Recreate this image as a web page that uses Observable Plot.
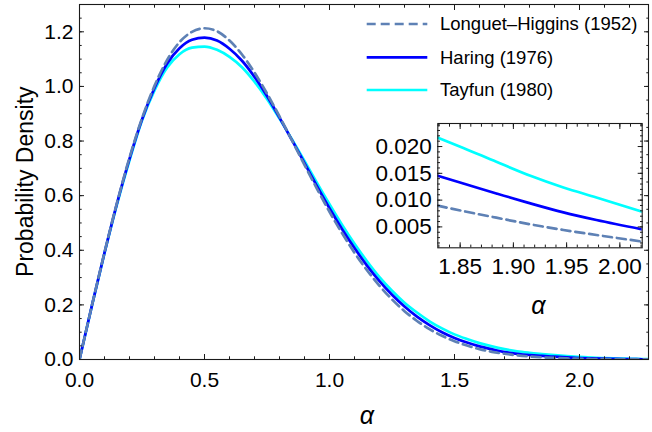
<!DOCTYPE html>
<html><head><meta charset="utf-8">
<script src="https://cdn.jsdelivr.net/npm/d3@7"></script>
<script src="https://cdn.jsdelivr.net/npm/@observablehq/plot@0.6"></script>
<style>
html,body{margin:0;padding:0;background:#fff;}
#chart{position:relative;width:652px;height:432px;font-family:"Liberation Sans",Arial,sans-serif;}
#chart svg{position:absolute;overflow:visible;background:none;}
</style></head><body><div id="chart"></div>
<script>
// ---- data ----
const alpha = [0,0.05,0.1,0.15,0.2,0.25,0.3,0.35,0.4,0.45,0.5,0.55,0.6,0.65,0.7,0.75,0.8,0.85,0.9,0.95,1.0,1.05,1.1,1.15,1.2,1.25,1.3,1.35,1.4,1.45,1.5,1.55,1.6,1.65,1.7,1.75,1.8,1.85,1.9,1.95,2.0,2.05,2.1,2.15,2.2,2.25,2.3];
const longuetHiggins = [0,0.199,0.392,0.574,0.739,0.883,1.002,1.096,1.162,1.200,1.213,1.202,1.168,1.117,1.051,0.974,0.890,0.802,0.713,0.625,0.541,0.463,0.391,0.327,0.270,0.220,0.177,0.141,0.111,0.087,0.067,0.051,0.038,0.028,0.021,0.0153,0.0110,0.0079,0.0056,0.0039,0.0027,0.0018,0.0012,0.0008,0.0005,0.0003,0.0002];
const haring = [0,0.199,0.391,0.572,0.735,0.879,0.994,1.083,1.140,1.171,1.179,1.168,1.138,1.094,1.035,0.965,0.886,0.803,0.719,0.635,0.554,0.478,0.408,0.344,0.287,0.237,0.194,0.157,0.126,0.100,0.079,0.062,0.048,0.037,0.027,0.021,0.0165,0.0132,0.0103,0.0076,0.0055,0.0040,0.0029,0.0021,0.0015,0.0010,0.0007];
const tayfun = [0,0.198,0.389,0.568,0.729,0.875,0.985,1.068,1.118,1.142,1.146,1.134,1.108,1.070,1.017,0.954,0.882,0.806,0.727,0.647,0.569,0.494,0.424,0.360,0.302,0.252,0.208,0.172,0.140,0.114,0.092,0.075,0.060,0.048,0.038,0.030,0.0245,0.0200,0.0158,0.0122,0.0093,0.0068,0.0050,0.0036,0.0026,0.0018,0.0012];

const insetAlpha = [1.829,1.853,1.884,1.916,1.947,1.978,2.021];
const insetLonguetHiggins = [0.00896,0.00795,0.00672,0.00548,0.00442,0.00349,0.00226];
const insetHaring = [0.01454,0.01311,0.01125,0.00939,0.00771,0.00628,0.00455];
const insetTayfun = [0.02167,0.01975,0.01715,0.01454,0.01236,0.01050,0.00784];

const seriesNames = ["Longuet\u2013Higgins (1952)", "Haring (1976)", "Tayfun (1980)"];
const seriesColors = ["#5e81b5", "#0000ff", "#00ffff"];
const seriesDash = ["9,5", null, null];

const xTicks = [0, 0.5, 1.0, 1.5, 2.0];
const xMinorTicks = [0,0.1,0.2,0.3,0.4,0.5,0.6,0.7,0.8,0.9,1.0,1.1,1.2,1.3,1.4,1.5,1.6,1.7,1.8,1.9,2.0,2.1,2.2];
const yTicks = [0, 0.2, 0.4, 0.6, 0.8, 1.0, 1.2];
const yMinorTicks = [0,0.05,0.1,0.15,0.2,0.25,0.3,0.35,0.4,0.45,0.5,0.55,0.6,0.65,0.7,0.75,0.8,0.85,0.9,0.95,1.0,1.05,1.1,1.15,1.2,1.25,1.3];
const insetXTicks = [1.85, 1.90, 1.95, 2.00];
const insetXMinorTicks = [1.83,1.84,1.85,1.86,1.87,1.88,1.89,1.90,1.91,1.92,1.93,1.94,1.95,1.96,1.97,1.98,1.99,2.00,2.01,2.02];
const insetYTicks = [0.005, 0.010, 0.015, 0.020];
const insetYMinorTicks = [0.002,0.003,0.004,0.005,0.006,0.007,0.008,0.009,0.010,0.011,0.012,0.013,0.014,0.015,0.016,0.017,0.018,0.019,0.020,0.021,0.022,0.023,0.024];

const xLabel = "\u03b1";
const yLabel = "Probability Density";

// ---- build tables ----
const mainSeries = [longuetHiggins, haring, tayfun].map((vals) => alpha.map((a, i) => ({a, v: vals[i]})));
const insetSeries = [insetLonguetHiggins, insetHaring, insetTayfun].map((vals) => insetAlpha.map((a, i) => ({a, v: vals[i]})));

const frameColor = "#1a1a1a";
const font = "Liberation Sans, Arial, sans-serif";

function frameAxes(xt, xm, yt, ym, fmtX, fmtY, fs, padX, padY) {
  const none = () => "";
  return [
    Plot.axisX(xt, {tickSize: -5, tickPadding: padX, tickFormat: fmtX, fontSize: fs, label: null, stroke: frameColor, fill: "black"}),
    Plot.axisX(xm, {tickSize: -2.7, tickFormat: none, label: null, stroke: frameColor}),
    Plot.axisX(xt, {anchor: "top", tickSize: -5, tickFormat: none, label: null, stroke: frameColor}),
    Plot.axisX(xm, {anchor: "top", tickSize: -2.7, tickFormat: none, label: null, stroke: frameColor}),
    Plot.axisY(yt, {tickSize: -5, tickPadding: padY, tickFormat: fmtY, fontSize: fs, label: null, stroke: frameColor, fill: "black"}),
    Plot.axisY(ym, {tickSize: -2.7, tickFormat: none, label: null, stroke: frameColor}),
    Plot.axisY(yt, {anchor: "right", tickSize: -5, tickFormat: none, label: null, stroke: frameColor}),
    Plot.axisY(ym, {anchor: "right", tickSize: -2.7, tickFormat: none, label: null, stroke: frameColor}),
    Plot.frame({stroke: frameColor, strokeWidth: 1.1})
  ];
}

function curveMarks(series) {
  return series.map((d, s) => Plot.line(d, {
    x: "a", y: "v", stroke: seriesColors[s], strokeWidth: 2.7,
    strokeDasharray: seriesDash[s] || undefined, curve: "monotone-x", clip: true
  })).reverse();
}

const main = Plot.plot({
  width: 652, height: 432,
  marginLeft: 79, marginRight: 4, marginTop: 4, marginBottom: 73,
  style: {fontFamily: font, background: "transparent"},
  x: {domain: [0, 2.276]},
  y: {domain: [0, 1.3]},
  marks: [
    ...curveMarks(mainSeries),
    ...frameAxes(xTicks, xMinorTicks, yTicks, yMinorTicks, d => d.toFixed(1), d => d.toFixed(1), 21, 17.5, 11)
  ]
});
main.style.left = "0px"; main.style.top = "0px";
document.getElementById("chart").appendChild(main);

// axis titles placed relative to the main frame
const ms = d3.select(main);
ms.append("text").attr("transform", "translate(25,181.7) rotate(-90)")
  .attr("text-anchor", "middle").attr("dy", "0.35em")
  .attr("font-family", font).attr("font-size", 23).attr("fill", "black").text(yLabel);
ms.append("text").attr("x", 367).attr("y", 416).attr("dy", "0.3em")
  .attr("text-anchor", "middle").attr("font-style", "italic")
  .attr("font-family", font).attr("font-size", 25).attr("fill", "black").text(xLabel);

const inset = Plot.plot({
  width: 282, height: 215,
  marginLeft: 67.3, marginRight: 10.3, marginTop: 13, marginBottom: 77.7,
  style: {fontFamily: font, background: "transparent"},
  x: {domain: [1.829, 2.021]},
  y: {domain: [0.0011, 0.0243]},
  marks: [
    ...curveMarks(insetSeries),
    ...frameAxes(insetXTicks, insetXMinorTicks, insetYTicks, insetYMinorTicks, d => d.toFixed(2), d => d.toFixed(3), 22.5, 15, 11)
  ]
});
inset.style.left = "370px"; inset.style.top = "110px";
document.getElementById("chart").appendChild(inset);
d3.select(inset).append("text").attr("x", 538.5 - 370).attr("y", 306.7 - 110).attr("dy", "0.3em")
  .attr("text-anchor", "middle").attr("font-style", "italic")
  .attr("font-family", font).attr("font-size", 25).attr("fill", "black").text(xLabel);

// ---- legend ----
const legend = d3.select("#chart").append("svg")
  .attr("width", 290).attr("height", 110)
  .style("left", "360px").style("top", "0px");
const rowY = [24, 57.3, 90];
seriesNames.forEach((name, i) => {
  legend.append("line")
    .attr("x1", 6.7).attr("x2", 67.3).attr("y1", rowY[i]).attr("y2", rowY[i])
    .attr("stroke", seriesColors[i]).attr("stroke-width", 2.7)
    .attr("stroke-dasharray", seriesDash[i]);
  legend.append("text")
    .attr("x", 80).attr("y", rowY[i]).attr("dy", "0.35em")
    .attr("font-family", font).attr("font-size", 18.5).attr("fill", "black")
    .text(name);
});
</script></body></html>
